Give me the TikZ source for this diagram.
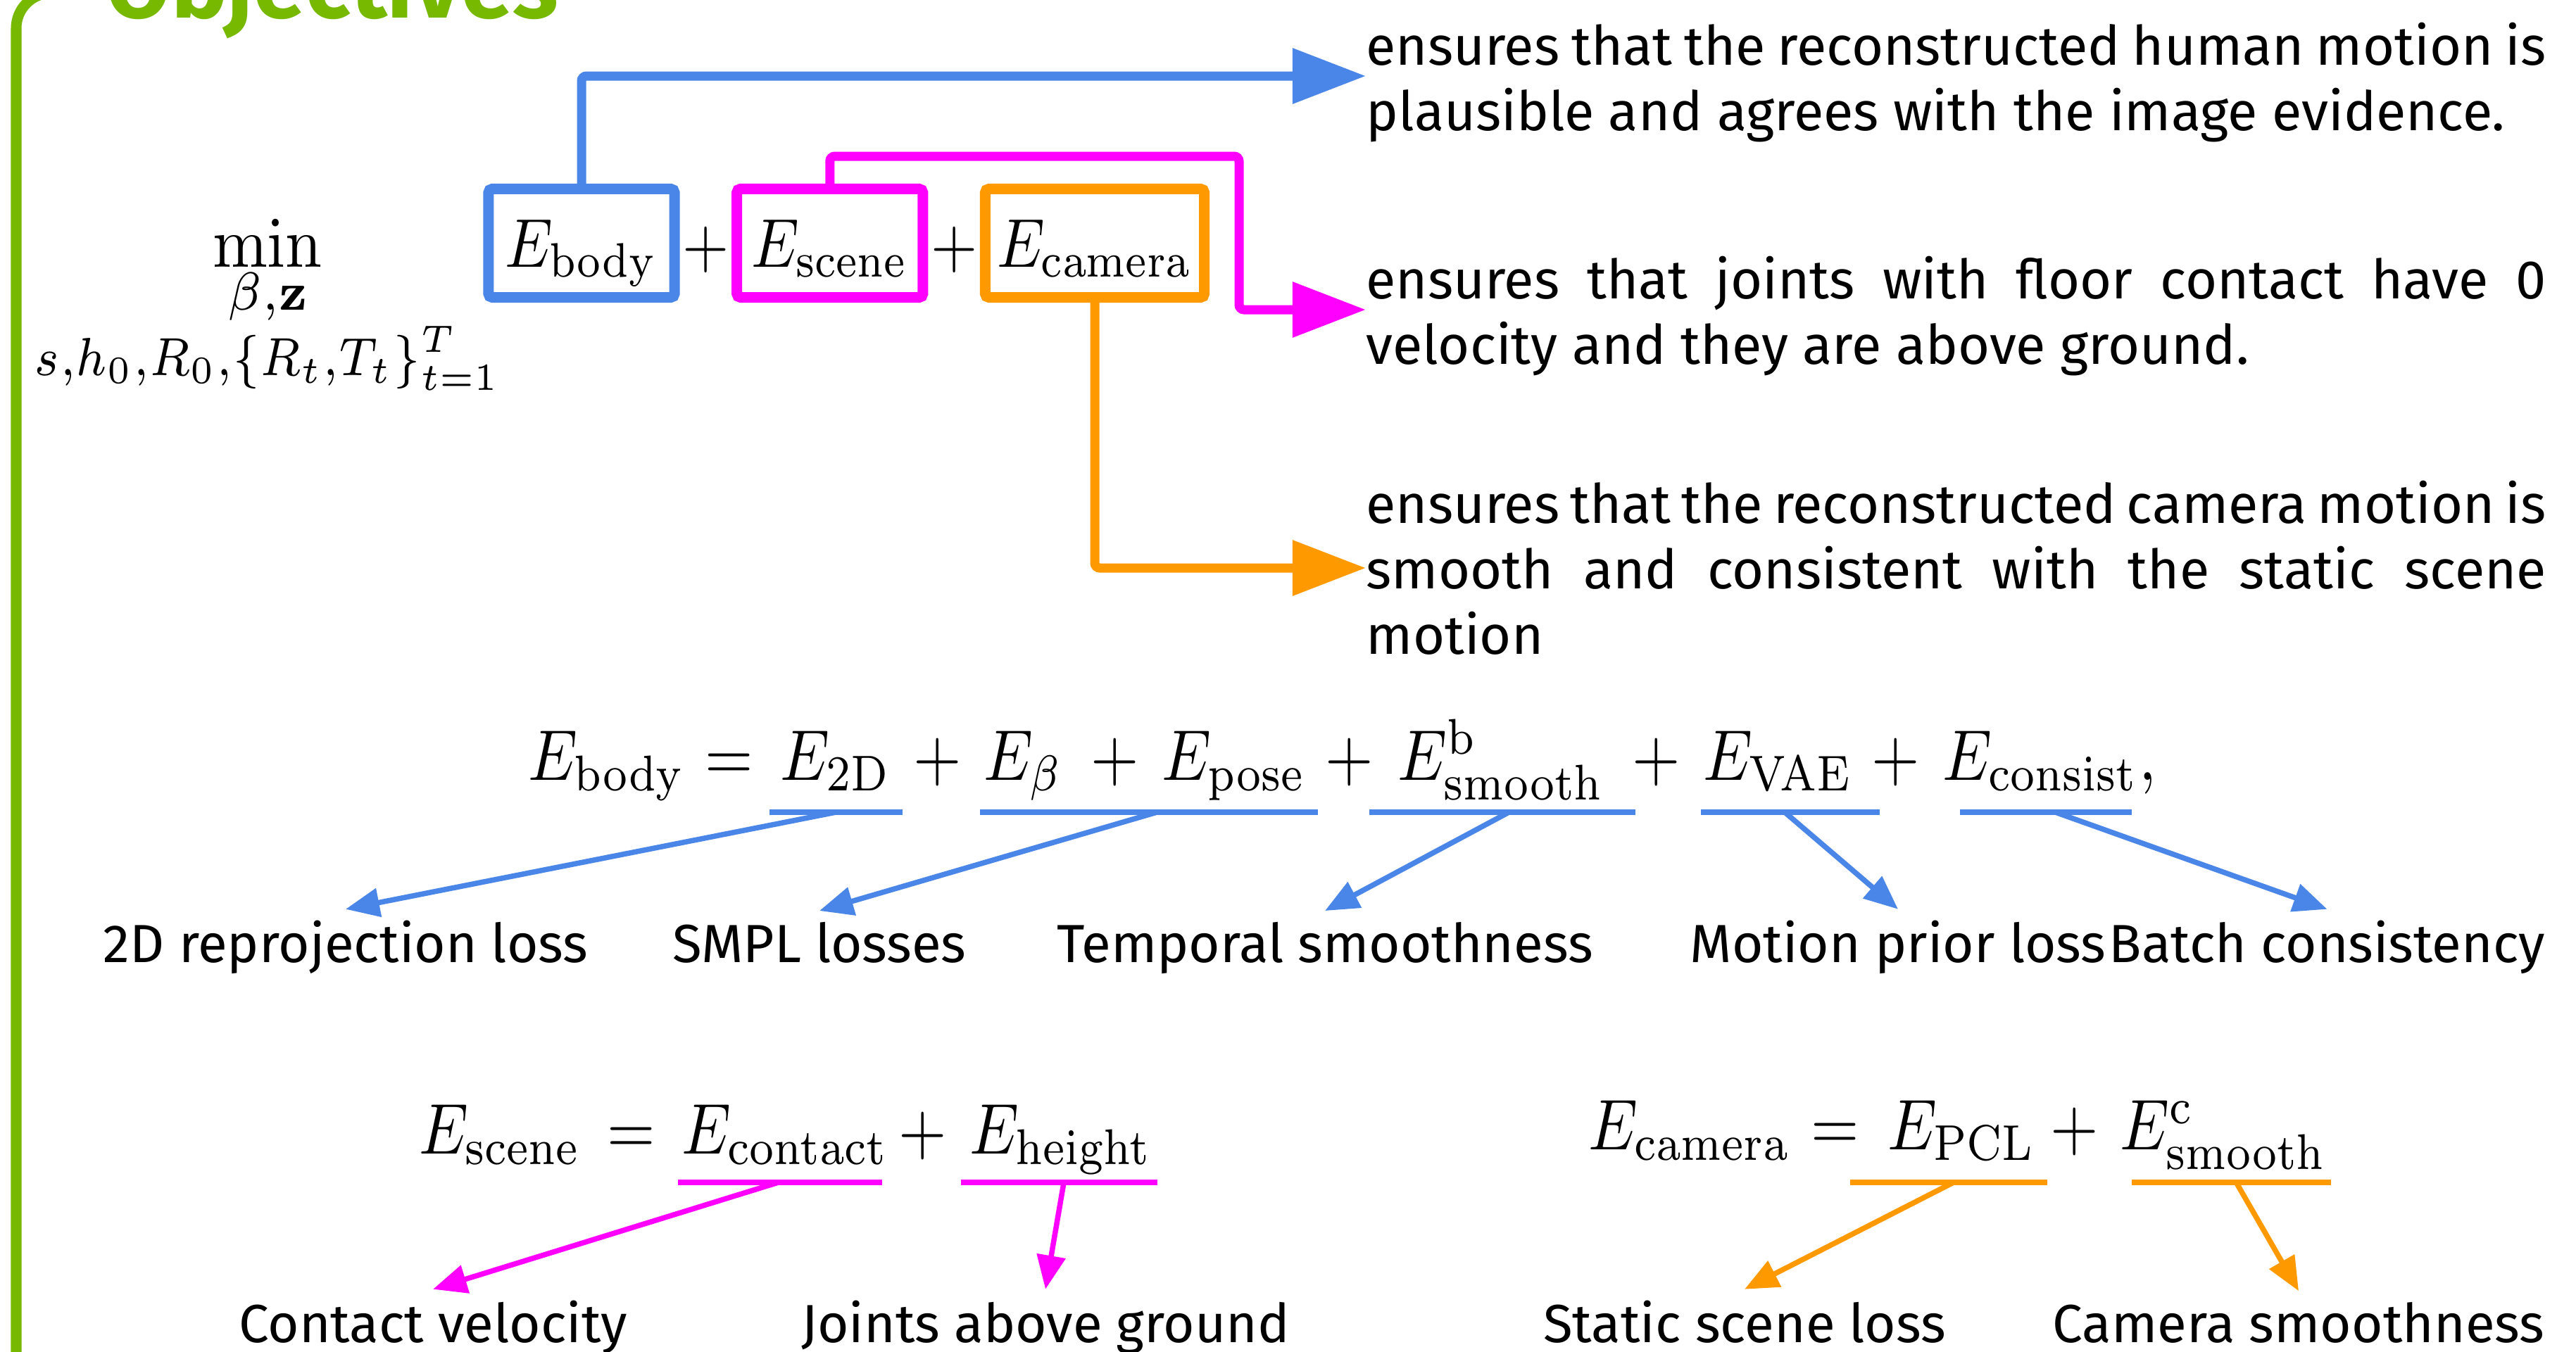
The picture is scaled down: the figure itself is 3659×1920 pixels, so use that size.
\RequirePackage{fix-cm}
\documentclass[tikz,border=0pt]{standalone}
\usepackage{amsmath}
\usepackage{graphicx}
\usepackage[no-math]{fontspec}
\newfontfamily\labelsans{Fira Sans}
\usepackage{tikz}
\usetikzlibrary{arrows.meta, positioning, calc}
\definecolor{eblue}{RGB}{74,134,232}
\definecolor{emag}{RGB}{255,0,255}
\definecolor{eorange}{RGB}{255,153,0}
\definecolor{egreen}{RGB}{118,185,0}
\newcommand{\eqmath}[1]{\scalebox{2.5}[2.9]{$#1$}}
\newcommand{\boxmath}[1]{\scalebox{2.42}[2.79]{$#1$}}
\newcommand{\lblsize}{\labelsans\fontsize{21.7}{26}\selectfont}
\newcommand{\notesize}{\labelsans\fontsize{22}{26.5}\selectfont}

\begin{document}
\begin{tikzpicture}[x=0.01cm, y=-0.01cm,
    ebox/.style={draw=#1, line width=0.15cm, rounded corners=1.5pt, minimum width=2.64cm,
      minimum height=1.54cm, text height=0.9cm, text depth=0.23cm, inner sep=0pt},
    plusop/.style={inner xsep=0.03cm, inner ysep=0pt, text height=0.9cm, text depth=0.23cm},
    term/.style={inner sep=0pt, anchor=base west},
    opr/.style={inner sep=0pt, anchor=base},
    lbl/.style={font=\lblsize, inner sep=0.15cm, anchor=base},
    note/.style={font=\notesize, text width=16.75cm, align=justify, inner sep=0pt, anchor=west},
    link/.style={draw=#1, line width=0.13cm, rounded corners=2pt, -{Triangle[length=1.04cm, width=0.76cm]}},
    pointer/.style={draw=#1, line width=0.075cm, -{Triangle[length=0.48cm, width=0.4cm]}},
    uline/.style={draw=#1, line width=0.08cm}]
    \useasboundingbox (0,0) rectangle (3659,1920);

    % frame and title
    \draw[egreen, line width=0.15cm, rounded corners=0.5cm] (23,2100) -- (23,-10) -- (3800,-10);
    \node[anchor=base west, inner sep=0pt, text=egreen, font=\labelsans\bfseries\fontsize{38}{44}\selectfont] (title) at (150,25) {Objectives};

    % objective
    \node[anchor=base, inner sep=0pt] (minop) at (380,379) {\scalebox{2.66}[2.9]{$\min$}};
    \node[anchor=base, inner sep=0pt] (minvar) at ([yshift=-0.61cm]minop.base) {\scalebox{2.85}[3.1]{$\scriptstyle\beta,\mathbf{z}$}};
    \node[anchor=base, inner sep=0pt] (minpar) at ([yshift=-1.54cm]minop.base) {\scalebox{2.72}[3.1]{$\scriptstyle s,h_0,R_0,\{R_t,T_t\}_{t=1}^T$}};

    \node[ebox=eblue, anchor=base] (body) at (826,379) {\boxmath{E_{\mathrm{body}}}};
    \node[plusop, right=0pt of body] (pbody) {\boxmath{+}};
    \node[ebox=emag, right=0pt of pbody] (scene) {\boxmath{E_{\mathrm{scene}}}};
    \node[plusop, right=0pt of scene] (pscene) {\boxmath{+}};
    \node[ebox=eorange, minimum width=3.11cm, right=0pt of pscene] (camera) {\boxmath{E_{\mathrm{camera}}}};

    % descriptions
    \node[note] (notebody) at (1940,117) {ensures that the reconstructed human motion is\linebreak plausible and agrees with the image evidence.};
    \node[note] (notescene) at (1940,449) {ensures that joints with floor contact have 0\linebreak velocity and they are above ground.};
    \node[note] (notecam) at (1940,807) {ensures that the reconstructed camera motion is\linebreak smooth and consistent with the static scene\linebreak motion};

    \coordinate (scenebend) at (1760,222);
    \draw[link=eblue] (body.north) |- ([yshift=0.09cm]notebody.west);
    \draw[link=emag] (scene.north) |- (scenebend) |- ([yshift=0.09cm]notescene.west);
    \draw[link=eorange] (camera.south) |- (notecam.west);

    % E_body
    \node[term] (eb) at (750,1108) {\eqmath{E_{\mathrm{body}}}};
    \node[opr] (eqb) at (1036,1108) {\eqmath{=}};
    \node[term] (e2d) at (1108,1108) {\eqmath{E_{\mathrm{2D}}}};
    \node[opr] (pa) at (1332,1108) {\eqmath{+}};
    \node[term] (ebeta) at (1397,1108) {\eqmath{E_\beta}};
    \node[opr] (pbp) at (1584,1108) {\eqmath{+}};
    \node[term] (epose) at (1650,1108) {\eqmath{E_{\mathrm{pose}}}};
    \node[opr] (pb) at (1917,1108) {\eqmath{+}};
    \node[term] (esmb) at (1985,1108) {\eqmath{E^{\mathrm{b}}_{\mathrm{smooth}}}};
    \node[opr] (pc) at (2353,1108) {\eqmath{+}};
    \node[term] (evae) at (2419,1108) {\eqmath{E_{\mathrm{VAE}}}};
    \node[opr] (pd) at (2693,1108) {\eqmath{+}};
    \node[term] (econ) at (2759,1108) {\eqmath{E_{\mathrm{consist}}}};
    \node[term] (comma) at (econ.base east) {\eqmath{,}};

    \draw[uline=eblue] ([xshift=-0.15cm,yshift=-0.46cm]e2d.base west) -- ([xshift=0.15cm,yshift=-0.46cm]e2d.base east);
    \draw[uline=eblue] ([xshift=-0.05cm,yshift=-0.46cm]ebeta.base west) -- ([xshift=0.16cm,yshift=-0.46cm]epose.base east);
    \draw[uline=eblue] ([xshift=-0.4cm,yshift=-0.46cm]esmb.base west) -- ([xshift=0.43cm,yshift=-0.46cm]esmb.base east);
    \draw[uline=eblue] ([xshift=-0.03cm,yshift=-0.46cm]evae.base west) -- ([xshift=0.37cm,yshift=-0.46cm]evae.base east);
    \draw[uline=eblue] ([xshift=0.25cm,yshift=-0.46cm]econ.base west) -- ([xshift=-0.1cm,yshift=-0.46cm]econ.base east);

    \coordinate (u2d) at ([yshift=-0.46cm]e2d.base);
    \coordinate (usmpl) at ($([yshift=-0.46cm]ebeta.base west)!0.5!([yshift=-0.46cm]epose.base east)+(0.17cm,0)$);
    \coordinate (usmb) at ([xshift=0.11cm,yshift=-0.46cm]esmb.base);
    \coordinate (uvae) at ([xshift=0.09cm,yshift=-0.46cm]evae.base);
    \coordinate (ucon) at ([xshift=0.21cm,yshift=-0.46cm]econ.base);

    \node[lbl] (l2d) at (491,1367) {2D reprojection loss};
    \node[lbl] (lsmpl) at (1164,1367) {SMPL losses};
    \node[lbl] (ltemp) at (1882,1367) {Temporal smoothness};
    \node[lbl] (lprior) at (2696,1367) {Motion prior loss};
    \node[lbl, anchor=base west] (lbatch) at (2980,1367) {Batch consistency};

    \draw[pointer=eblue] (u2d) -- (l2d.north);
    \draw[pointer=eblue] (usmpl) -- (lsmpl.north);
    \draw[pointer=eblue] (usmb) -- (ltemp.north);
    \draw[pointer=eblue] (uvae) -- (lprior.north);
    \draw[pointer=eblue] (ucon) -- (lbatch.north);

    % E_scene
    \node[term] (es) at (595,1639) {\eqmath{E_{\mathrm{scene}}}};
    \node[opr] (eqs) at (897,1639) {\eqmath{=}};
    \node[term] (econt) at (968,1639) {\eqmath{E_{\mathrm{contact}}}};
    \node[opr] (pe) at (1311,1639) {\eqmath{+}};
    \node[term] (eh) at (1377,1639) {\eqmath{E_{\mathrm{height}}}};

    \draw[uline=emag] ([xshift=-0.05cm,yshift=-0.41cm]econt.base west) -- ([xshift=-0.1cm,yshift=-0.41cm]econt.base east);
    \draw[uline=emag] ([xshift=-0.12cm,yshift=-0.41cm]eh.base west) -- ([xshift=0.07cm,yshift=-0.41cm]eh.base east);
    \coordinate (ucont) at ([xshift=-0.1cm,yshift=-0.41cm]econt.base);
    \coordinate (uh) at ([xshift=0.04cm,yshift=-0.41cm]eh.base);

    \node[lbl] (lcont) at (615,1907) {Contact velocity};
    \node[lbl] (lheight) at (1485,1907) {Joints above ground};
    \draw[pointer=emag] (ucont) -- (lcont.north);
    \draw[pointer=emag] (uh) -- (lheight.north);

    % E_camera
    \node[term] (ec) at (2256,1633) {\eqmath{E_{\mathrm{camera}}}};
    \node[opr] (eqc) at (2607,1633) {\eqmath{=}};
    \node[term] (epcl) at (2681,1633) {\eqmath{E_{\mathrm{PCL}}}};
    \node[opr] (pf) at (2947,1633) {\eqmath{+}};
    \node[term] (esmc) at (3011,1633) {\eqmath{E^{\mathrm{c}}_{\mathrm{smooth}}}};

    \draw[uline=eorange] ([xshift=-0.53cm,yshift=-0.47cm]epcl.base west) -- ([xshift=0.15cm,yshift=-0.47cm]epcl.base east);
    \draw[uline=eorange] ([xshift=0.17cm,yshift=-0.47cm]esmc.base west) -- ([xshift=0.05cm,yshift=-0.47cm]esmc.base east);
    \coordinate (upcl) at ([xshift=-0.12cm,yshift=-0.47cm]epcl.base);
    \coordinate (usmc) at ([xshift=0.18cm,yshift=-0.47cm]esmc.base);

    \node[lbl] (lstatic) at (2478,1907) {Static scene loss};
    \node[lbl] (lcamsm) at (3265,1907) {Camera smoothness};
    \draw[pointer=eorange] (upcl) -- (lstatic.north);
    \draw[pointer=eorange] (usmc) -- (lcamsm.north);
\end{tikzpicture}
\end{document}
